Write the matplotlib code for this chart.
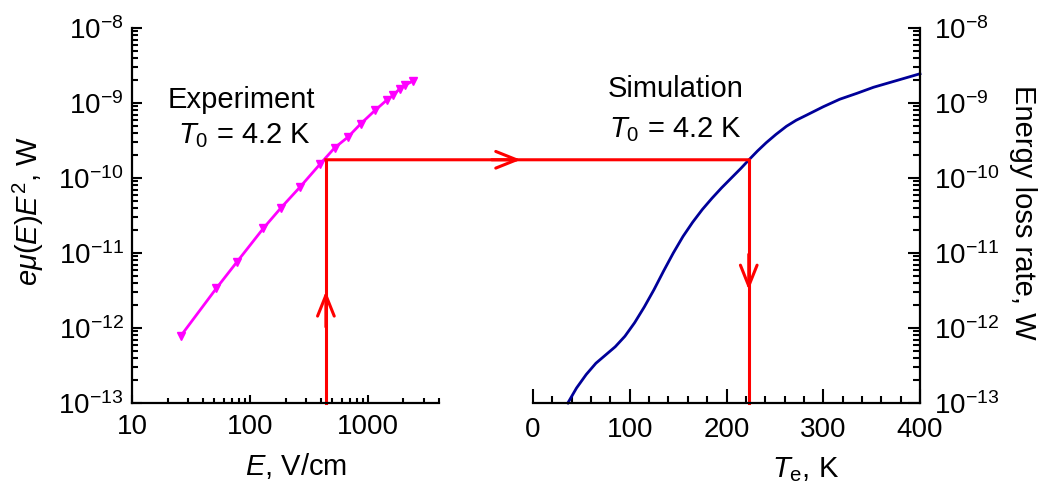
import numpy as np
import matplotlib
matplotlib.use("Agg")
from matplotlib import pyplot as plt
from matplotlib.patches import ConnectionPatch
from matplotlib.ticker import MultipleLocator, LogLocator, FuncFormatter, NullFormatter

#%% datos leidos de la figura
# experimento: campo E (V/cm) y potencia e*mu(E)*E^2 (W)
E_exp = [26, 52, 78, 130, 183, 266, 395, 525, 675, 870, 1150, 1440, 1640, 1865, 2060, 2420]
P_exp = [7.9e-13, 3.4e-12, 7.7e-12, 2.14e-11, 4.0e-11, 7.6e-11, 1.55e-10, 2.55e-10,
         3.5e-10, 5.3e-10, 8.0e-10, 1.09e-9, 1.27e-9, 1.56e-9, 1.73e-9, 1.97e-9]

# simulacion: temperatura electronica (K) y log10 de la tasa de perdida (W)
T_sim = [36, 45, 55, 65, 75, 85, 95, 105, 115, 125, 135, 145, 155, 165, 175, 185,
         195, 205, 215, 223, 232, 241, 251, 262, 272, 283, 300, 317, 335, 352, 376, 400]
logP_sim = [-13.0, -12.80, -12.62, -12.47, -12.36, -12.25, -12.11, -11.93, -11.72,
            -11.49, -11.24, -11.00, -10.78, -10.59, -10.42, -10.27, -10.13, -10.00,
            -9.87, -9.76, -9.64, -9.53, -9.42, -9.31, -9.23, -9.16, -9.05, -8.95,
            -8.87, -8.79, -8.70, -8.61]

# camino de las flechas rojas
E_cross = 440        # V/cm
T_cross = 223        # K
P_cross = 1.75e-10   # W
P_tip_left = 3.1e-12
P_tip_right = 3.2e-12
T_tip_mid = -12.7    # punta de la flecha horizontal (coord. del eje derecho)

#%% estilo
plt.rcParams["font.family"] = ["Liberation Sans", "DejaVu Sans"]
plt.rcParams["mathtext.fontset"] = "custom"
plt.rcParams["mathtext.rm"] = "Liberation Sans"
plt.rcParams["mathtext.it"] = "Liberation Sans:italic"
plt.rcParams["mathtext.bf"] = "Liberation Sans:bold"
plt.rcParams["axes.unicode_minus"] = False

W, H = 1040, 488
fig = plt.figure(figsize=(W / 100, H / 100), dpi=100)
ax1 = fig.add_axes([132 / W, 85 / H, 307 / W, 375 / H])
ax2 = fig.add_axes([533 / W, 85 / H, 387 / W, 375 / H])

#%% panel izquierdo
ax1.set_xscale("log")
ax1.set_yscale("log")
ax1.set_xlim(10, 4000)
ax1.set_ylim(1e-13, 1e-8)
ax1.plot(E_exp, P_exp, color="#ff00ff", lw=2, marker="v", ms=6, clip_on=False)
for s in ["top", "right"]:
    ax1.spines[s].set_visible(False)
for s in ["left", "bottom"]:
    ax1.spines[s].set_linewidth(1.6)
ax1.xaxis.set_major_formatter(FuncFormatter(lambda v, p: "%d" % v))
ax1.xaxis.set_minor_formatter(NullFormatter())
ax1.yaxis.set_major_locator(LogLocator(base=10, numticks=10))
ax1.yaxis.set_minor_locator(LogLocator(base=10, subs=np.arange(2, 10), numticks=10))
ax1.tick_params(which="both", direction="in", width=1.5, labelsize=20)
ax1.tick_params(axis="x", which="major", length=6, pad=8)
ax1.tick_params(axis="x", which="minor", length=3.5)
ax1.tick_params(axis="y", which="major", length=7, pad=6)
ax1.tick_params(axis="y", which="minor", length=4)

ax1.text(0.357, 0.786, "Experiment", transform=ax1.transAxes, ha="center",
         va="baseline", fontsize=21)
ax1.text(0.366, 0.6925, r"$T_0$ = 4.2 K", transform=ax1.transAxes, ha="center",
         va="baseline", fontsize=21)

#%% panel derecho
ax2.set_yscale("log")
ax2.set_xlim(0, 400)
ax2.set_ylim(1e-13, 1e-8)
ax2.plot(T_sim, 10 ** np.array(logP_sim), color="#000099", lw=2,
         solid_joinstyle="round", clip_on=False)
for s in ["top", "left"]:
    ax2.spines[s].set_visible(False)
for s in ["right", "bottom"]:
    ax2.spines[s].set_linewidth(1.6)
ax2.yaxis.tick_right()
ax2.xaxis.set_major_locator(MultipleLocator(100))
ax2.xaxis.set_minor_locator(MultipleLocator(20))
ax2.yaxis.set_major_locator(LogLocator(base=10, numticks=10))
ax2.yaxis.set_minor_locator(LogLocator(base=10, subs=np.arange(2, 10), numticks=10))
ax2.tick_params(which="both", direction="in", width=1.5, labelsize=20)
ax2.tick_params(axis="x", which="major", length=10, pad=10)
ax2.tick_params(axis="x", which="minor", length=5)
ax2.tick_params(axis="y", which="major", length=9, pad=10)
ax2.tick_params(axis="y", which="minor", length=5)

ax2.text(0.194, 0.817, "Simulation", transform=ax2.transAxes, ha="left",
         va="baseline", fontsize=21)
ax2.text(0.196, 0.710, r"$T_0$ = 4.2 K", transform=ax2.transAxes, ha="left",
         va="baseline", fontsize=21)

#%% flechas rojas
red_kw = dict(color="red", lw=2.2, solid_capstyle="projecting")
ax1.plot([E_cross, E_cross], [1e-13, P_cross], clip_on=False, **red_kw)
ax2.plot([T_cross, T_cross], [P_cross, 1e-13], clip_on=False, **red_kw)
con = ConnectionPatch(xyA=(E_cross, P_cross), coordsA=ax1.transData,
                      xyB=(T_cross, P_cross), coordsB=ax2.transData,
                      color="red", lw=2.2, capstyle="projecting")
fig.add_artist(con)

arrow_kw = dict(arrowstyle="->,head_length=0.75,head_width=0.3", color="red",
                lw=2.2, mutation_scale=20, shrinkA=0, shrinkB=0)
ax1.annotate("", xy=(E_cross, P_tip_left), xytext=(E_cross, P_tip_left / 3),
             arrowprops=arrow_kw)
ax2.annotate("", xy=(T_tip_mid, P_cross), xytext=(T_tip_mid - 30, P_cross),
             arrowprops=arrow_kw, annotation_clip=False)
ax2.annotate("", xy=(T_cross, P_tip_right), xytext=(T_cross, P_tip_right * 3),
             arrowprops=arrow_kw)

#%% etiquetas de ejes
fig.text(28 / W, 1 - 211 / H, r"$e\mu(E)E^{2}$, W", rotation=90, ha="center",
         va="center", fontsize=21)
fig.text(1023 / W, 1 - 212 / H, "Energy loss rate, W", rotation=-90, ha="center",
         va="center", fontsize=21)
fig.text(296 / W, (H - 475) / H, r"$E$, V/cm", ha="center", va="baseline", fontsize=21)
fig.text(806 / W, (H - 476.7) / H, r"$T_{\rm e}$, K", ha="center", va="baseline",
         fontsize=21)

fig.savefig("out.png", dpi=100)
